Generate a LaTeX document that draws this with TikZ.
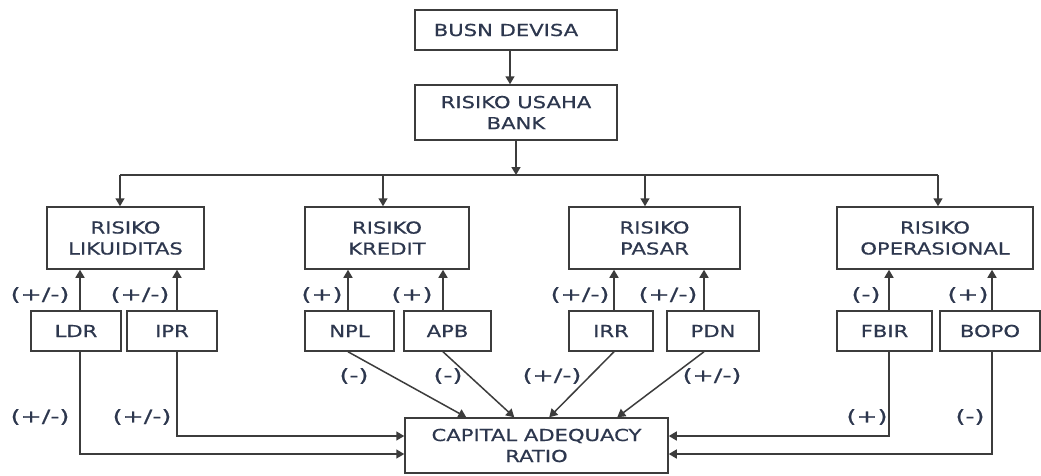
\documentclass[tikz,border=0pt]{standalone}
\usepackage{fontspec}
\setmainfont{DejaVu Sans}
\newfontfamily\boxfont[FakeStretch=1.28,FakeBold=0.6]{DejaVu Sans}
\newfontfamily\labfont[FakeStretch=1.45,FakeBold=0.6]{DejaVu Sans}
\usetikzlibrary{arrows.meta,calc}
\definecolor{txt}{RGB}{45,55,78}
\definecolor{ln}{RGB}{60,60,60}
\begin{document}
\begin{tikzpicture}[x=1pt,y=-1pt,
  box/.style={draw=ln, line width=1.5pt, fill=white, text=txt, font=\boxfont\fontsize{16.5}{21}\selectfont, align=center, inner sep=0pt},
  lab/.style={text=txt, font=\labfont\fontsize{17.5}{20}\selectfont, inner sep=0pt},
  arr/.style={draw=ln, line width=1.5pt, -{Triangle[width=9pt,length=8pt]}},
  bline/.style={draw=ln, line width=1.5pt}]
\fill[white] (0,0) rectangle (1041,475);
\useasboundingbox (0,0) rectangle (1041,475);
% top
\node[box, minimum width=202pt, minimum height=40pt] (busn) at (516,30) {BUSN DEVISA\hspace{20pt}};
\node[box, minimum width=202pt, minimum height=55pt] (usaha) at (516,112.5) {RISIKO USAHA\\BANK};
% risks
\node[box, minimum width=157pt, minimum height=62pt] (lik) at (125.5,238) {RISIKO\\LIKUIDITAS};
\node[box, minimum width=164pt, minimum height=62pt] (kre) at (387,238) {RISIKO\\KREDIT};
\node[box, minimum width=171pt, minimum height=62pt] (pas) at (654.5,238) {RISIKO\\PASAR};
\node[box, minimum width=196pt, minimum height=62pt] (ops) at (935,238) {RISIKO\\OPERASIONAL};
% indicators
\node[box, minimum width=90pt, minimum height=40pt] (ldr) at (76,331) {LDR};
\node[box, minimum width=90pt, minimum height=40pt] (ipr) at (172,331) {IPR};
\node[box, minimum width=89pt, minimum height=40pt] (npl) at (349.5,331) {NPL};
\node[box, minimum width=87pt, minimum height=40pt] (apb) at (447.5,331) {APB};
\node[box, minimum width=84pt, minimum height=40pt] (irr) at (611,331) {IRR};
\node[box, minimum width=92pt, minimum height=40pt] (pdn) at (713,331) {PDN};
\node[box, minimum width=95pt, minimum height=40pt] (fbir) at (884.5,331) {FBIR};
\node[box, minimum width=100pt, minimum height=40pt] (bopo) at (990,331) {BOPO};
% CAR
\node[box, minimum width=263pt, minimum height=55pt] (car) at (536.5,445.5) {CAPITAL ADEQUACY\\RATIO};
% top connectors
\draw[arr] ($(busn.south)+(-6,0)$) -- ($(usaha.north)+(-6,0)$);
\coordinate (bus) at (516,175);
\draw[arr] (usaha.south) -- (bus);
\coordinate (dl) at (120,175);
\coordinate (dk) at (383,175);
\coordinate (dp) at (645,175);
\coordinate (do) at (938,175);
\draw[bline] (dl) -- (do);
\draw[arr] (dl) -- (dl |- lik.north);
\draw[arr] (dk) -- (dk |- kre.north);
\draw[arr] (dp) -- (dp |- pas.north);
\draw[arr] (do) -- (do |- ops.north);
% up arrows
\draw[arr] ($(ldr.north)+(4,0)$) -- ($(ldr.north |- lik.south)+(4,0)$);
\draw[arr] ($(ipr.north)+(5,0)$) -- ($(ipr.north |- lik.south)+(5,0)$);
\draw[arr] ($(npl.north)+(-1.5,0)$) -- ($(npl.north |- kre.south)+(-1.5,0)$);
\draw[arr] ($(apb.north)+(-4.5,0)$) -- ($(apb.north |- kre.south)+(-4.5,0)$);
\draw[arr] ($(irr.north)+(3,0)$) -- ($(irr.north |- pas.south)+(3,0)$);
\draw[arr] ($(pdn.north)+(-9,0)$) -- ($(pdn.north |- pas.south)+(-9,0)$);
\draw[arr] ($(fbir.north)+(4.5,0)$) -- ($(fbir.north |- ops.south)+(4.5,0)$);
\draw[arr] ($(bopo.north)+(2,0)$) -- ($(bopo.north |- ops.south)+(2,0)$);
% to CAR
\coordinate (yh) at (0,436);
\coordinate (yl) at (0,454);
\coordinate (sldr) at ($(ldr.south)+(4,0)$);
\coordinate (sipr) at ($(ipr.south)+(5,0)$);
\coordinate (sfbir) at ($(fbir.south)+(4.5,0)$);
\coordinate (sbopo) at ($(bopo.south)+(2,0)$);
\draw[arr] (sldr) |- (car.west |- yl);
\draw[arr] (sipr) |- (car.west |- yh);
\draw[arr] (sfbir) |- (car.east |- yh);
\draw[arr] (sbopo) |- (car.east |- yl);
\draw[arr] ($(npl.south)+(-1.5,0)$) -- ($(car.north west)+(62,0)$);
\draw[arr] ($(apb.south)+(-4.5,0)$) -- ($(car.north west)+(110,0)$);
\draw[arr] ($(irr.south)+(3,0)$) -- ($(car.north west)+(145,0)$);
\draw[arr] ($(pdn.south)+(-9,0)$) -- ($(car.north west)+(213,0)$);
% labels
\node[lab] (l1) at (40,295) {(+/-)};
\node[lab] (l2) at (140,295) {(+/-)};
\node[lab] (l3) at (322,295) {(+)};
\node[lab] (l4) at (412,295) {(+)};
\node[lab] (l5) at (580,295) {(+/-)};
\node[lab] (l6) at (668,295) {(+/-)};
\node[lab] (l7) at (866,295) {(-)};
\node[lab] (l8) at (968,295) {(+)};
\node[lab] (l9) at (354,376) {(-)};
\node[lab] (l10) at (448,376) {(-)};
\node[lab] (l11) at (552,376) {(+/-)};
\node[lab] (l12) at (712,376) {(+/-)};
\node[lab] (l13) at (40,417) {(+/-)};
\node[lab] (l14) at (142,417) {(+/-)};
\node[lab] (l15) at (867,417) {(+)};
\node[lab] (l16) at (970,417) {(-)};
\end{tikzpicture}
\end{document}
